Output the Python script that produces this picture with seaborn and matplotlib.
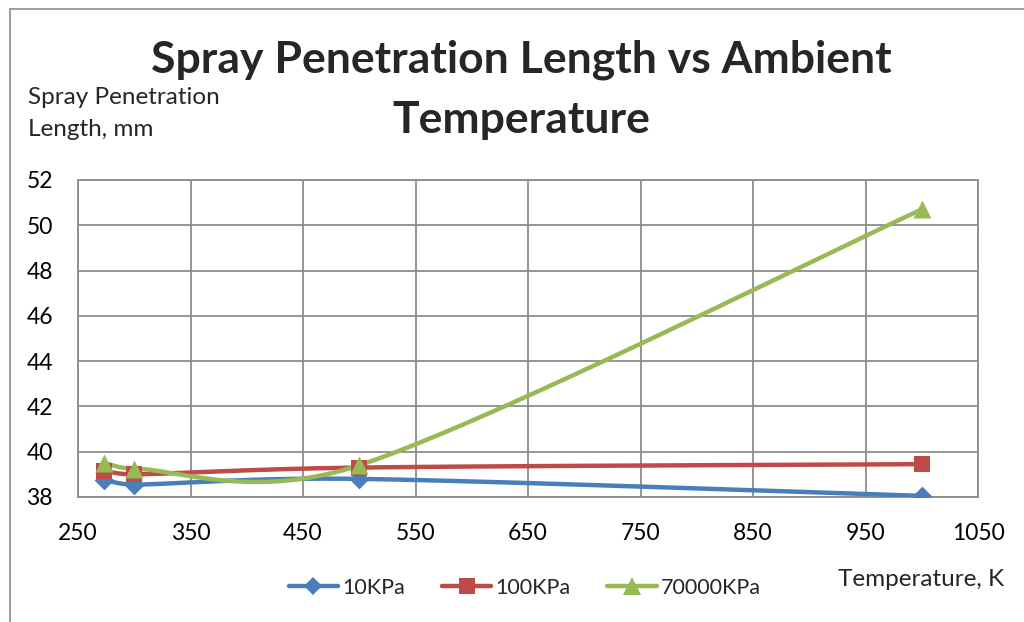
import numpy as np
import pandas as pd
import matplotlib
matplotlib.use("Agg")
import matplotlib.pyplot as plt
from matplotlib.lines import Line2D
from matplotlib.patches import Rectangle
import seaborn as sns

# ---- data ----
temperature = [273, 300, 500, 1000]
p10kpa = [38.75, 38.55, 38.8, 38.05]
p100kpa = [39.15, 39.0, 39.3, 39.45]
p70000kpa = [39.5, 39.25, 39.4, 50.7]
series_names = ["10KPa", "100KPa", "70000KPa"]
x_ticks = [250, 350, 450, 550, 650, 750, 850, 950, 1050]
y_ticks = [38, 40, 42, 44, 46, 48, 50, 52]

colors = ["#4A7EBB", "#BE4B48", "#98B954"]
markers = ["D", "s", "^"]
msizes = [10, 12, 13]

sns.set_theme(style="white")
FONT = ["Lato", "DejaVu Sans"]
plt.rcParams["font.family"] = FONT

XLIM = (250, 1050)
YLIM = (38, 52)
AX_PX = (78, 180, 978, 497)  # left, top, right, bottom in pixels


def smooth_curve(xs, ys, n=80):
    """Bezier 'smoothed line' rendering through the data points (pixel space)."""
    sx = (AX_PX[2] - AX_PX[0]) / (XLIM[1] - XLIM[0])
    sy = (AX_PX[3] - AX_PX[1]) / (YLIM[1] - YLIM[0])
    P = np.column_stack([np.asarray(xs, float) * sx, np.asarray(ys, float) * sy])
    m = len(P)
    out = []

    def clamp(v, lim):
        L = np.linalg.norm(v)
        return v * (lim / L) if L > lim else v

    for i in range(m - 1):
        p0 = P[i - 1] if i > 0 else P[i]
        p1 = P[i]
        p2 = P[i + 1]
        p3 = P[i + 2] if i + 2 < m else P[i + 1]
        dseg = np.linalg.norm(p2 - p1)
        a1 = clamp((p2 - p0) / 6.0, 0.5 * dseg)
        a2 = clamp((p3 - p1) / 6.0, 0.5 * dseg)
        c1 = p1 + a1
        c2 = p2 - a2
        t = np.linspace(0, 1, n)[:, None]
        seg = ((1 - t) ** 3) * p1 + 3 * ((1 - t) ** 2) * t * c1 + 3 * (1 - t) * t ** 2 * c2 + t ** 3 * p2
        out.append(seg if i == 0 else seg[1:])
    arr = np.vstack(out)
    return arr[:, 0] / sx, arr[:, 1] / sy


fig = plt.figure(figsize=(10.24, 6.22), dpi=100)
ax = fig.add_axes([AX_PX[0] / 1024, 1 - AX_PX[3] / 622,
                   (AX_PX[2] - AX_PX[0]) / 1024, (AX_PX[3] - AX_PX[1]) / 622])

# outer chart frame
fig.patches.append(Rectangle((10 / 1024, -0.1), 1.1, 1 - 9 / 622 + 0.1, transform=fig.transFigure,
                             fill=False, edgecolor="#8C8C8C", linewidth=1.2))

all_y = [p10kpa, p100kpa, p70000kpa]
handles = []
for name, ys, c, mk, ms in zip(series_names, all_y, colors, markers, msizes):
    cx, cy = smooth_curve(temperature, ys)
    curve = pd.DataFrame({"x": cx, "y": cy})
    sns.lineplot(data=curve, x="x", y="y", sort=False, ax=ax, color=c, linewidth=3.2,
                 estimator=None, zorder=3)
    pts = pd.DataFrame({"x": temperature, "y": ys})
    sns.scatterplot(data=pts, x="x", y="y", ax=ax, marker=mk, s=ms ** 2, color=c,
                    edgecolor=c, linewidth=0, zorder=4)
    handles.append(Line2D([0], [0], color=c, linewidth=3.2, marker=mk, markersize=ms * 0.95,
                          markeredgewidth=0, solid_capstyle="round"))

ax.set_xlim(*XLIM)
ax.set_ylim(*YLIM)
ax.set_xticks(x_ticks)
ax.set_yticks(y_ticks)
ax.set_xlabel("")
ax.set_ylabel("")
ax.grid(True, color="#8C8C8C", linewidth=1.3)
ax.set_axisbelow(True)
for s in ax.spines.values():
    s.set_color("#8C8C8C")
    s.set_linewidth(1.3)
ax.tick_params(axis="both", length=0, labelsize=16.5, colors="black")
ax.tick_params(axis="x", pad=19)
ax.tick_params(axis="y", pad=18)

fig.text(521 / 1024, 1 - 60 / 622, "Spray Penetration Length vs Ambient", ha="center", va="center",
         fontsize=32, fontweight="bold")
fig.text(521 / 1024, 1 - 120 / 622, "Temperature", ha="center", va="center",
         fontsize=32, fontweight="bold")
fig.text(28 / 1024, 1 - 98 / 622, "Spray Penetration", ha="left", va="center", fontsize=17.5)
fig.text(28 / 1024, 1 - 130 / 622, "Length, mm", ha="left", va="center", fontsize=17.5)
fig.text(838 / 1024, 1 - 580 / 622, "Temperature, K", ha="left", va="center", fontsize=17.5)

fig.legend(handles, series_names, loc="center", bbox_to_anchor=(525 / 1024, 1 - 588 / 622),
           ncol=3, frameon=False, fontsize=15.5, handlelength=2.3, handletextpad=0.2,
           columnspacing=1.7)

fig.savefig("out.png", dpi=100, facecolor="white")
